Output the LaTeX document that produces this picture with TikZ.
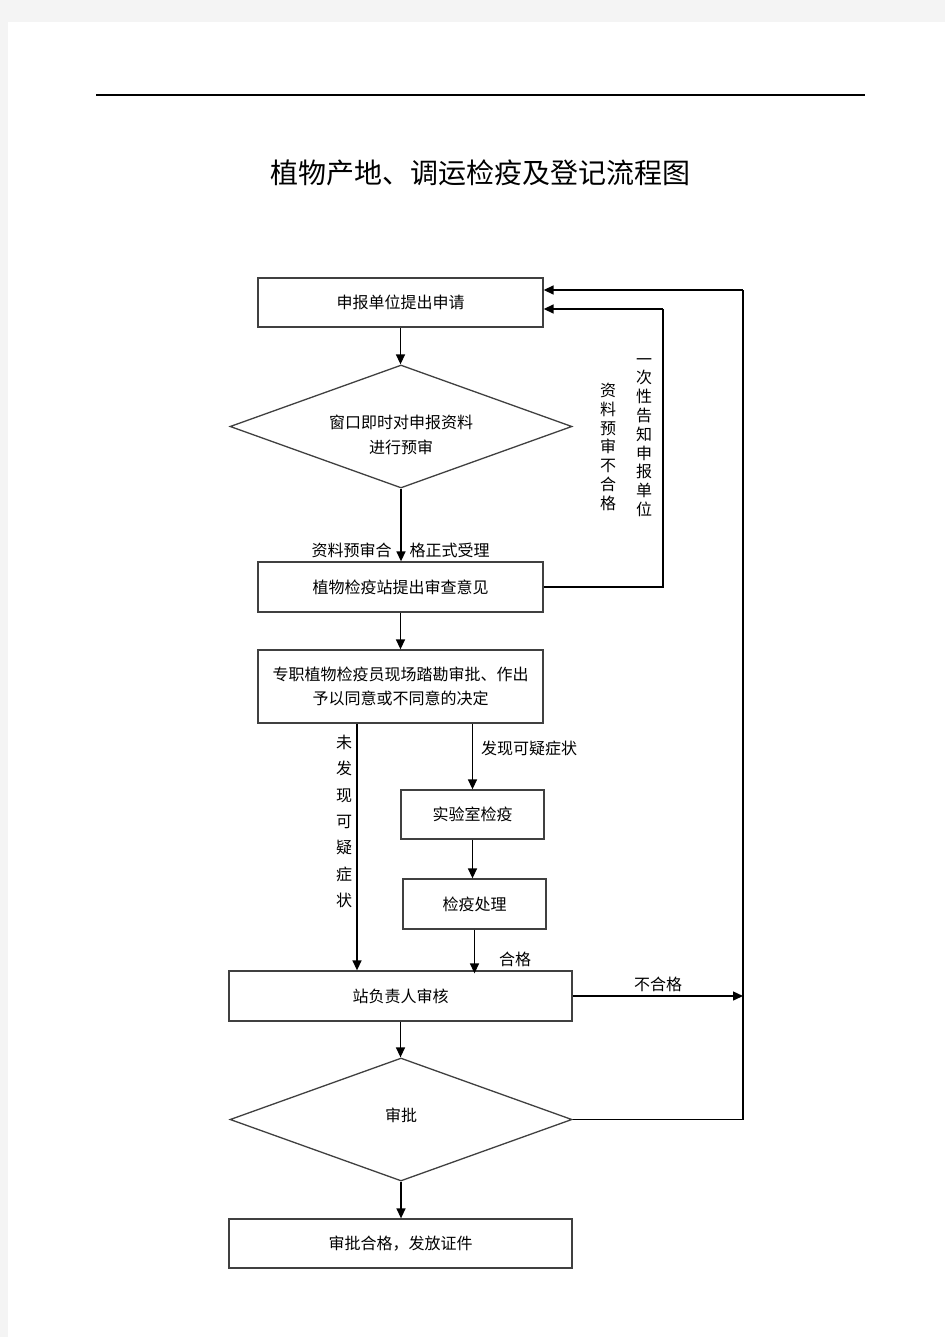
\documentclass[tikz,border=0pt]{standalone}
\usepackage{fontspec}
\setmainfont{Noto Sans CJK SC}
\usetikzlibrary{arrows.meta,shapes.geometric}
\definecolor{pagegray}{HTML}{F4F4F4}
\definecolor{boxline}{HTML}{404040}
\tikzset{
  boxnode/.style={rectangle,draw=boxline,line width=1.3pt,inner sep=0pt,
    align=center,font=\fontsize{16}{24}\selectfont},
  decnode/.style={diamond,draw=boxline,line width=1.3pt,inner sep=0pt,
    align=center,font=\fontsize{16}{25}\selectfont,aspect=2.78,
    minimum width=342pt,minimum height=123pt},
  arr/.style={line width=1.4pt,-{Triangle[length=10pt,width=9pt]}},
  conn/.style={line width=1.4pt},
  lbl/.style={inner sep=0pt,font=\fontsize{16}{18.8}\selectfont,align=center},
}
\begin{document}
\begin{tikzpicture}[x=1pt,y=-1pt]
\useasboundingbox (0,0) rectangle (945,1337);
\fill[pagegray] (0,0) rectangle (945,22);
\fill[pagegray] (0,0) rectangle (8,1337);
\fill[white] (8,22) rectangle (945,1337);
% header rule
\coordinate (hl) at (96,95);
\coordinate (hr) at (865,95);
\draw[line width=1.2pt] (hl) -- (hr);
% title
\node[inner sep=0pt,font=\fontsize{28}{30}\selectfont] (title) at (480,173) {植物产地、调运检疫及登记流程图};
% nodes
\node[boxnode,minimum width=285pt,minimum height=49pt] (b1) at (400.5,302.5) {申报单位提出申请};
\node[decnode] (d1) at (401,426.5) {\raisebox{-14pt}[0pt][0pt]{\begin{tabular}{@{}c@{}}窗口即时对申报资料\\进行预审\end{tabular}}};
\node[boxnode,minimum width=285pt,minimum height=50pt] (b2) at (400.5,587) {植物检疫站提出审查意见};
\node[boxnode,minimum width=285pt,minimum height=73pt] (b3) at (400.5,686.5) {专职植物检疫员现场踏勘审批、作出\\予以同意或不同意的决定};
\node[boxnode,minimum width=143pt,minimum height=49pt] (lab) at (472.5,814.5) {实验室检疫};
\node[boxnode,minimum width=143pt,minimum height=50pt] (proc) at (474.5,904) {检疫处理};
\node[boxnode,minimum width=343pt,minimum height=50pt] (b4) at (400.5,996) {站负责人审核};
\node[decnode] (d2) at (401,1119.5) {\raisebox{-1.5pt}[0pt][0pt]{审批}};
\node[boxnode,minimum width=343pt,minimum height=49pt] (b5) at (400.5,1243.5) {审批合格，发放证件};
% helper coordinates
\coordinate (r1) at (663,309);
\coordinate (r2top) at (743,290);
\coordinate (r2bot) at (743,1119.5);
% connectors
\draw[arr] (b1.south) -- (b1.south |- d1.north);
\draw[arr] (d1.south) -- (d1.south |- b2.north);
\draw[conn] (b2.east) -| (r1);
\draw[arr] (r1) -- (b1.east |- r1);
\draw[arr] (b2.south) -- (b2.south |- b3.north);
\draw[arr] ([xshift=-43.5pt]b3.south) -- ([xshift=-43.5pt]b3.south |- b4.north);
\draw[arr] (lab.north |- b3.south) -- (lab.north);
\draw[arr] (lab.south) -- (lab.south |- proc.north);
\draw[arr] (proc.south) -- ([yshift=-3pt]proc.south |- b4.north);
\draw[arr] (b4.east) -- (b4.east -| r2bot);
\draw[arr] (b4.south) -- (b4.south |- d2.north);
\draw[arr] (d2.south) -- (d2.south |- b5.north);
\draw[conn] (d2.east) -- (r2bot) -- (r2top);
\draw[arr] (r2top) -- (b1.east |- r2top);
% labels
\node[lbl] (lq) at (400.5,550) {资料预审合\hspace{18pt}格正式受理};
\node[lbl,anchor=north] (lfail) at (608,383) {资\\料\\预\\审\\不\\合\\格};
\node[lbl,anchor=north] (lnotify) at (644,358) {一\\次\\性\\告\\知\\申\\报\\单\\位};
\node[lbl,anchor=north,font=\fontsize{16}{26.3}\selectfont] (lnone) at (344,735) {未\\发\\现\\可\\疑\\症\\状};
\node[lbl,anchor=west] (lfound) at (481,748) {发现可疑症状};
\node[lbl] (lok) at (515,959) {合格};
\node[lbl] (lno) at (658,984) {不合格};
\end{tikzpicture}
\end{document}
